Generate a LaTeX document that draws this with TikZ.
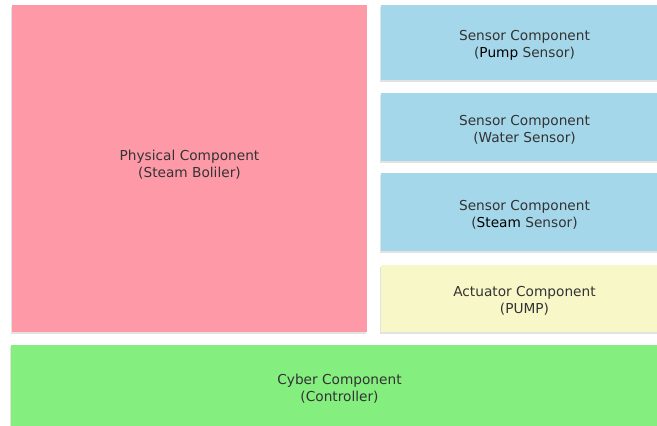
\documentclass[tikz,border=0pt]{standalone}
\usepackage{fontspec}
\setmainfont{DejaVu Sans}
\definecolor{pinkfill}{HTML}{FE9AA8}
\definecolor{bluefill}{HTML}{A5D7EA}
\definecolor{yellowfill}{HTML}{F8F7C8}
\definecolor{greenfill}{HTML}{84EE7E}
\definecolor{shadowgray}{HTML}{E2E2E2}
\definecolor{txtgray}{HTML}{333333}
\tikzset{
  compbox/.style={rectangle, draw=none, inner sep=0pt, outer sep=0pt,
    preaction={fill=shadowgray, transform canvas={xshift=-1pt,yshift=-2pt}}},
  lbl/.style={inner sep=0pt, text=txtgray, align=center,
    font=\fontsize{13.7pt}{16.7pt}\selectfont}
}
\begin{document}
\begin{tikzpicture}[x=1pt,y=-1pt]
\useasboundingbox (0,0) rectangle (657,426);
\fill[white] (0,0) rectangle (657,426);
\begin{scope}
\clip (0,0) rectangle (657,426);
\node[compbox, fill=pinkfill, minimum width=355pt, minimum height=327pt] (phys) at (189.5,168.5) {};
\node[compbox, fill=bluefill, minimum width=287pt, minimum height=75pt] (pump) at (524.5,42.5) {};
\node[compbox, fill=bluefill, minimum width=287pt, minimum height=68pt] (water) at (524.5,127) {};
\node[compbox, fill=bluefill, minimum width=287pt, minimum height=78pt] (steam) at (524.5,212) {};
\node[compbox, fill=yellowfill, minimum width=287pt, minimum height=67pt] (act) at (524.5,298.5) {};
\node[compbox, fill=greenfill, minimum width=657pt, minimum height=81pt] (cyber) at (339.5,385.5) {};
\end{scope}
\node[lbl] (physlbl) at (189.5,164.5) {Physical Component\\(Steam Boliler)};
\node[lbl] (pumplbl) at ([yshift=-2.5pt]pump.center) {Sensor Component\\({\color{black}Pump} Sensor)};
\node[lbl] (waterlbl) at ([yshift=-2.5pt]water.center) {Sensor Component\\(Water Sensor)};
\node[lbl] (steamlbl) at ([yshift=-2.5pt]steam.center) {Sensor Component\\({\color{black}Steam} Sensor)};
\node[lbl] (actlbl) at ([yshift=-2.5pt]act.center) {Actuator Component\\(PUMP)};
\node[lbl] (cyberlbl) at ([yshift=-3pt]cyber.center) {Cyber Component\\(Controller)};
\end{tikzpicture}
\end{document}
